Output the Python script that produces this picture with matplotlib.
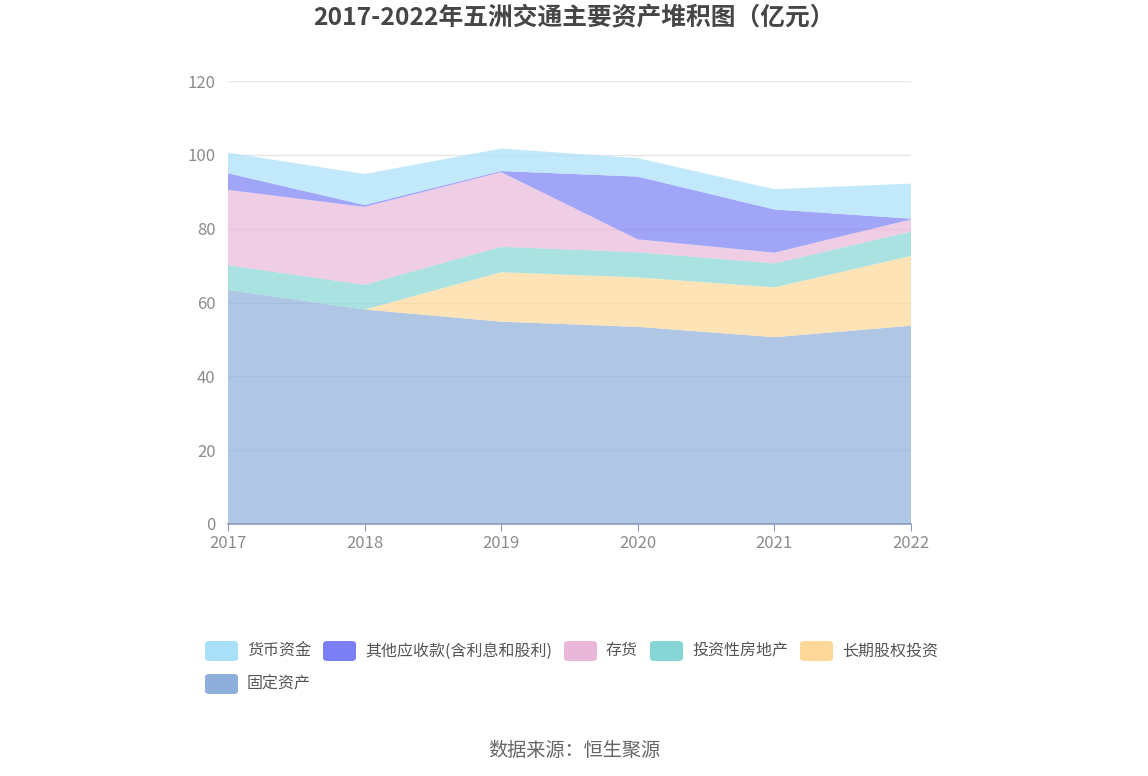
import matplotlib
matplotlib.use("Agg")
import matplotlib.pyplot as plt
from matplotlib.patches import FancyBboxPatch

plt.rcParams["font.family"] = ["Noto Sans CJK SC", "DejaVu Sans"]

years = [2017, 2018, 2019, 2020, 2021, 2022]
# stacked bottom -> top
fixed_assets = [63.4, 58.1, 54.8, 53.4, 50.6, 53.7]
lt_equity = [0.0, 0.0, 13.4, 13.4, 13.5, 18.9]
inv_property = [6.7, 6.7, 6.9, 6.8, 6.5, 6.6]
inventory = [20.4, 21.1, 20.2, 3.5, 2.9, 3.3]
other_rec = [4.5, 0.5, 0.3, 17.0, 11.7, 0.2]
cash = [5.6, 8.4, 6.1, 5.0, 5.5, 9.5]

stack_labels = ["固定资产", "长期股权投资", "投资性房地产", "存货", "其他应收款(含利息和股利)", "货币资金"]
stack_colors = ["#8eaedb", "#fdd898", "#86d6d6", "#e9b8d9", "#7a7ff5", "#a8e0fa"]

legend_order = ["货币资金", "其他应收款(含利息和股利)", "存货", "投资性房地产", "长期股权投资", "固定资产"]

W, H = 1148, 776
fig = plt.figure(figsize=(W / 100, H / 100), dpi=100)
ax = fig.add_axes([228 / W, 1 - 524 / H, (911 - 228) / W, (524 - 81) / H])

ax.stackplot(years, fixed_assets, lt_equity, inv_property, inventory, other_rec, cash,
             colors=stack_colors, alpha=0.7, linewidth=0, zorder=2)

ax.set_xlim(2017, 2022)
ax.set_ylim(0, 120)
ax.set_xticks(years)
ax.set_yticks(range(0, 121, 20))
ax.grid(axis="y", color="#e6e6e6", linewidth=1, zorder=0)
ax.set_axisbelow(True)
for s in ["top", "right", "left"]:
    ax.spines[s].set_visible(False)
ax.spines["bottom"].set_color("#8a9bb8")
ax.spines["bottom"].set_linewidth(1.2)
ax.spines["bottom"].set_zorder(3)
ax.tick_params(axis="x", length=5, color="#8a9bb8", labelsize=12, labelcolor="#8c8c8c", pad=3)
ax.tick_params(axis="y", length=0, labelsize=12, labelcolor="#8c8c8c", pad=9)

fig.text(574 / W, 1 - 18 / H, "2017-2022年五洲交通主要资产堆积图（亿元）", ha="center", va="center",
         fontsize=17.8, fontweight="bold", color="#464646")
fig.text(574 / W, 1 - 750 / H, "数据来源：恒生聚源", ha="center", va="center",
         fontsize=13.8, color="#666666")

# legend, flowing left to right like the original
renderer = fig.canvas.get_renderer()
color_of = dict(zip(stack_labels, stack_colors))
x, y = 205, 651
for lab in legend_order:
    t = fig.text(0, 0, lab, fontsize=11.5, color="#555555", va="center", ha="left")
    tw = t.get_window_extent(renderer).width
    if x + 42 + tw > 965:
        x, y = 205, 684
    t.set_position(((x + 42) / W, 1 - y / H))
    fig.patches.append(FancyBboxPatch((x / W, 1 - (y + 10) / H), 33 / W, 20 / H,
                                      boxstyle="round,pad=0,rounding_size=0.004",
                                      transform=fig.transFigure, facecolor=color_of[lab],
                                      edgecolor="none"))
    x = x + 42 + tw + 12

fig.savefig("out.png", dpi=100)
